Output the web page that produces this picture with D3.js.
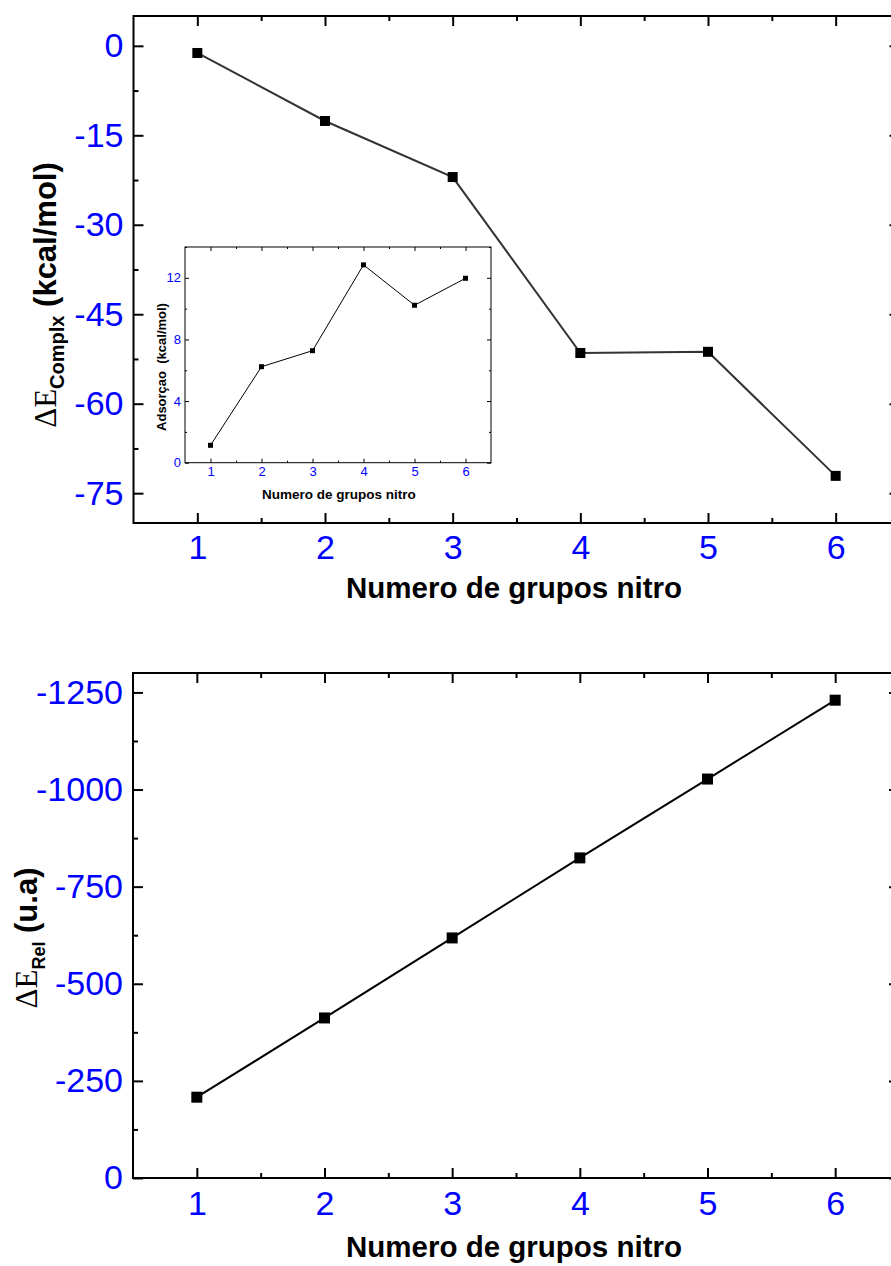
<!DOCTYPE html>
<html>
<head>
<meta charset="utf-8">
<script src="https://cdn.jsdelivr.net/npm/d3@7"></script>
<style>
  body { margin: 0; background: #fff; }
  svg { display: block; font-family: Arial, "Liberation Sans", Helvetica, sans-serif; }
</style>
</head>
<body>
<svg id="chart"></svg>
<script>
// values
const nitroGroups = [1, 2, 3, 4, 5, 6];
const complexEnergy = [-1.2, -12.6, -22.0, -51.5, -51.3, -72.1];
const adsorptionEnergy = [1.13, 6.23, 7.27, 12.84, 10.22, 11.97];
const relativeEnergy = [-208, -412, -618, -824, -1027, -1230];

// tick labels
const xTicks = [1, 2, 3, 4, 5, 6];
const complexTicks = [0, -15, -30, -45, -60, -75];
const adsorptionTicks = [0, 4, 8, 12];
const relativeTicks = [0, -250, -500, -750, -1000, -1250];
const xTitle = "Numero de grupos nitro";

const width = 891, height = 1266;
const blue = "#0000ff";
const serif = "'Times New Roman', 'Liberation Serif', serif";

const svg = d3.select("#chart")
    .attr("width", width)
    .attr("height", height);

// half steps between the major ticks
function halves(ticks) {
  const out = [];
  for (let i = 0; i < ticks.length - 1; i++) out.push((ticks[i] + ticks[i + 1]) / 2);
  return out;
}

// frame with inward ticks on all four sides, labels on bottom + left
function drawAxes(g, x, y, o) {
  const [x0, x1] = x.range();
  const [y0, y1] = y.range();
  const fmt = d => String(d);

  const sides = [
    { axis: d3.axisBottom, scale: x, t: `translate(0,${y0})`, major: o.xMajor, minor: o.xMinor, labels: true, pad: o.xPad },
    { axis: d3.axisTop, scale: x, t: `translate(0,${y1})`, major: o.xMajor, minor: o.xMinor, labels: false },
    { axis: d3.axisLeft, scale: y, t: `translate(${x0},0)`, major: o.yMajor, minor: o.yMinor, labels: true, pad: o.yPad },
    { axis: d3.axisRight, scale: y, t: `translate(${x1},0)`, major: o.yMajor, minor: o.yMinor, labels: false }
  ];

  sides.forEach(s => {
    // major ticks
    const a = g.append("g").attr("transform", s.t)
      .call(s.axis(s.scale).tickValues(s.major).tickSize(-o.majorLen)
        .tickPadding(s.pad || 0).tickFormat(s.labels ? fmt : ""));
    a.select(".domain").remove();
    a.selectAll("line").attr("stroke", "#000").attr("stroke-width", o.sw);
    a.selectAll("text")
      .attr("fill", blue)
      .style("font-size", o.fontSize + "px")
      .style("font-family", "Arial, 'Liberation Sans', sans-serif");
    // minor ticks
    const m = g.append("g").attr("transform", s.t)
      .call(s.axis(s.scale).tickValues(s.minor).tickSize(-o.minorLen).tickFormat(""));
    m.select(".domain").remove();
    m.selectAll("line").attr("stroke", "#000").attr("stroke-width", o.sw);
  });

  g.append("rect")
    .attr("x", x0).attr("y", y1)
    .attr("width", x1 - x0).attr("height", y0 - y1)
    .attr("fill", "none")
    .attr("stroke", "#000")
    .attr("stroke-width", o.sw);
}

function drawSeries(g, x, y, values, o) {
  const data = nitroGroups.map((n, i) => ({ n: n, v: values[i] }));
  g.append("path")
    .datum(data)
    .attr("fill", "none")
    .attr("stroke", o.lineColor)
    .attr("stroke-width", o.lineWidth)
    .attr("d", d3.line().x(d => x(d.n)).y(d => y(d.v)));
  g.selectAll(null)
    .data(data)
    .join("rect")
      .attr("x", d => x(d.n) - o.marker / 2)
      .attr("y", d => y(d.v) - o.marker / 2)
      .attr("width", o.marker)
      .attr("height", o.marker)
      .attr("fill", "#000");
}

// rotated y title:  ΔE with subscript + unit
function yTitle(g, cx, cy, sub, unit, o) {
  const t = g.append("text")
    .attr("transform", `translate(${cx},${cy}) rotate(-90)`)
    .attr("text-anchor", "middle")
    .attr("fill", "#000");
  t.append("tspan").text("ΔE")
    .style("font-family", serif)
    .style("font-size", o.big + "px");
  t.append("tspan").text(sub)
    .attr("dy", o.shift)
    .style("font-weight", "bold")
    .style("font-size", o.small + "px");
  t.append("tspan").text(" " + unit)
    .attr("dy", -o.shift)
    .style("font-weight", "bold")
    .style("font-size", o.unit + "px");
}

// ---------- top panel ----------
const topPanel = svg.append("g");
const xTop = d3.scaleLinear().domain([0.5, 6.5]).range([133.5, 899.5]);
const yTop = d3.scaleLinear().domain([-80, 5]).range([523, 16]);

drawAxes(topPanel, xTop, yTop, {
  xMajor: xTicks, xMinor: halves(xTicks),
  yMajor: complexTicks, yMinor: halves(complexTicks),
  majorLen: 10, minorLen: 5, sw: 2, fontSize: 34, xPad: 12, yPad: 10
});
drawSeries(topPanel, xTop, yTop, complexEnergy, { lineColor: "#333", lineWidth: 2, marker: 10 });

topPanel.append("text")
  .attr("x", 514).attr("y", 598)
  .attr("text-anchor", "middle")
  .style("font-weight", "bold")
  .style("font-size", "29.5px")
  .text(xTitle);

yTitle(topPanel, 56, 295, "Complx", "(kcal/mol)", { big: 31, small: 20, unit: 31, shift: 8 });

// ---------- inset ----------
const inset = svg.append("g");
const xIn = d3.scaleLinear().domain([0.5, 6.5]).range([185, 491]);
const yIn = d3.scaleLinear().domain([0, 14]).range([462.7, 247]);

inset.append("rect")
  .attr("x", 185).attr("y", 247)
  .attr("width", 306).attr("height", 215.7)
  .attr("fill", "#fff");

drawAxes(inset, xIn, yIn, {
  xMajor: xTicks, xMinor: halves(xTicks),
  yMajor: adsorptionTicks, yMinor: halves(adsorptionTicks.concat([16])),
  majorLen: 4, minorLen: 2, sw: 1, fontSize: 13, xPad: 4, yPad: 4
});
drawSeries(inset, xIn, yIn, adsorptionEnergy, { lineColor: "#000", lineWidth: 1, marker: 5 });

inset.append("text")
  .attr("x", 339).attr("y", 499)
  .attr("text-anchor", "middle")
  .style("font-weight", "bold")
  .style("font-size", "13.5px")
  .text(xTitle);

inset.append("text")
  .attr("transform", "translate(166,367) rotate(-90)")
  .attr("text-anchor", "middle")
  .style("font-weight", "bold")
  .style("font-size", "13px")
  .style("white-space", "pre")
  .text("Adsorçao  (kcal/mol)");

// ---------- bottom panel ----------
const bottomPanel = svg.append("g");
const xBot = d3.scaleLinear().domain([0.5, 6.5]).range([133, 899]);
const yBot = d3.scaleLinear().domain([0, -1300]).range([1178, 673]);

drawAxes(bottomPanel, xBot, yBot, {
  xMajor: xTicks, xMinor: halves(xTicks),
  yMajor: relativeTicks, yMinor: halves(relativeTicks),
  majorLen: 10, minorLen: 5, sw: 2, fontSize: 34, xPad: 13, yPad: 10
});
drawSeries(bottomPanel, xBot, yBot, relativeEnergy, { lineColor: "#000", lineWidth: 2, marker: 11 });

bottomPanel.append("text")
  .attr("x", 514).attr("y", 1257)
  .attr("text-anchor", "middle")
  .style("font-weight", "bold")
  .style("font-size", "29.5px")
  .text(xTitle);

yTitle(bottomPanel, 37, 938, "Rel", "(u.a)", { big: 31, small: 18, unit: 31, shift: 8 });
</script>
</body>
</html>
